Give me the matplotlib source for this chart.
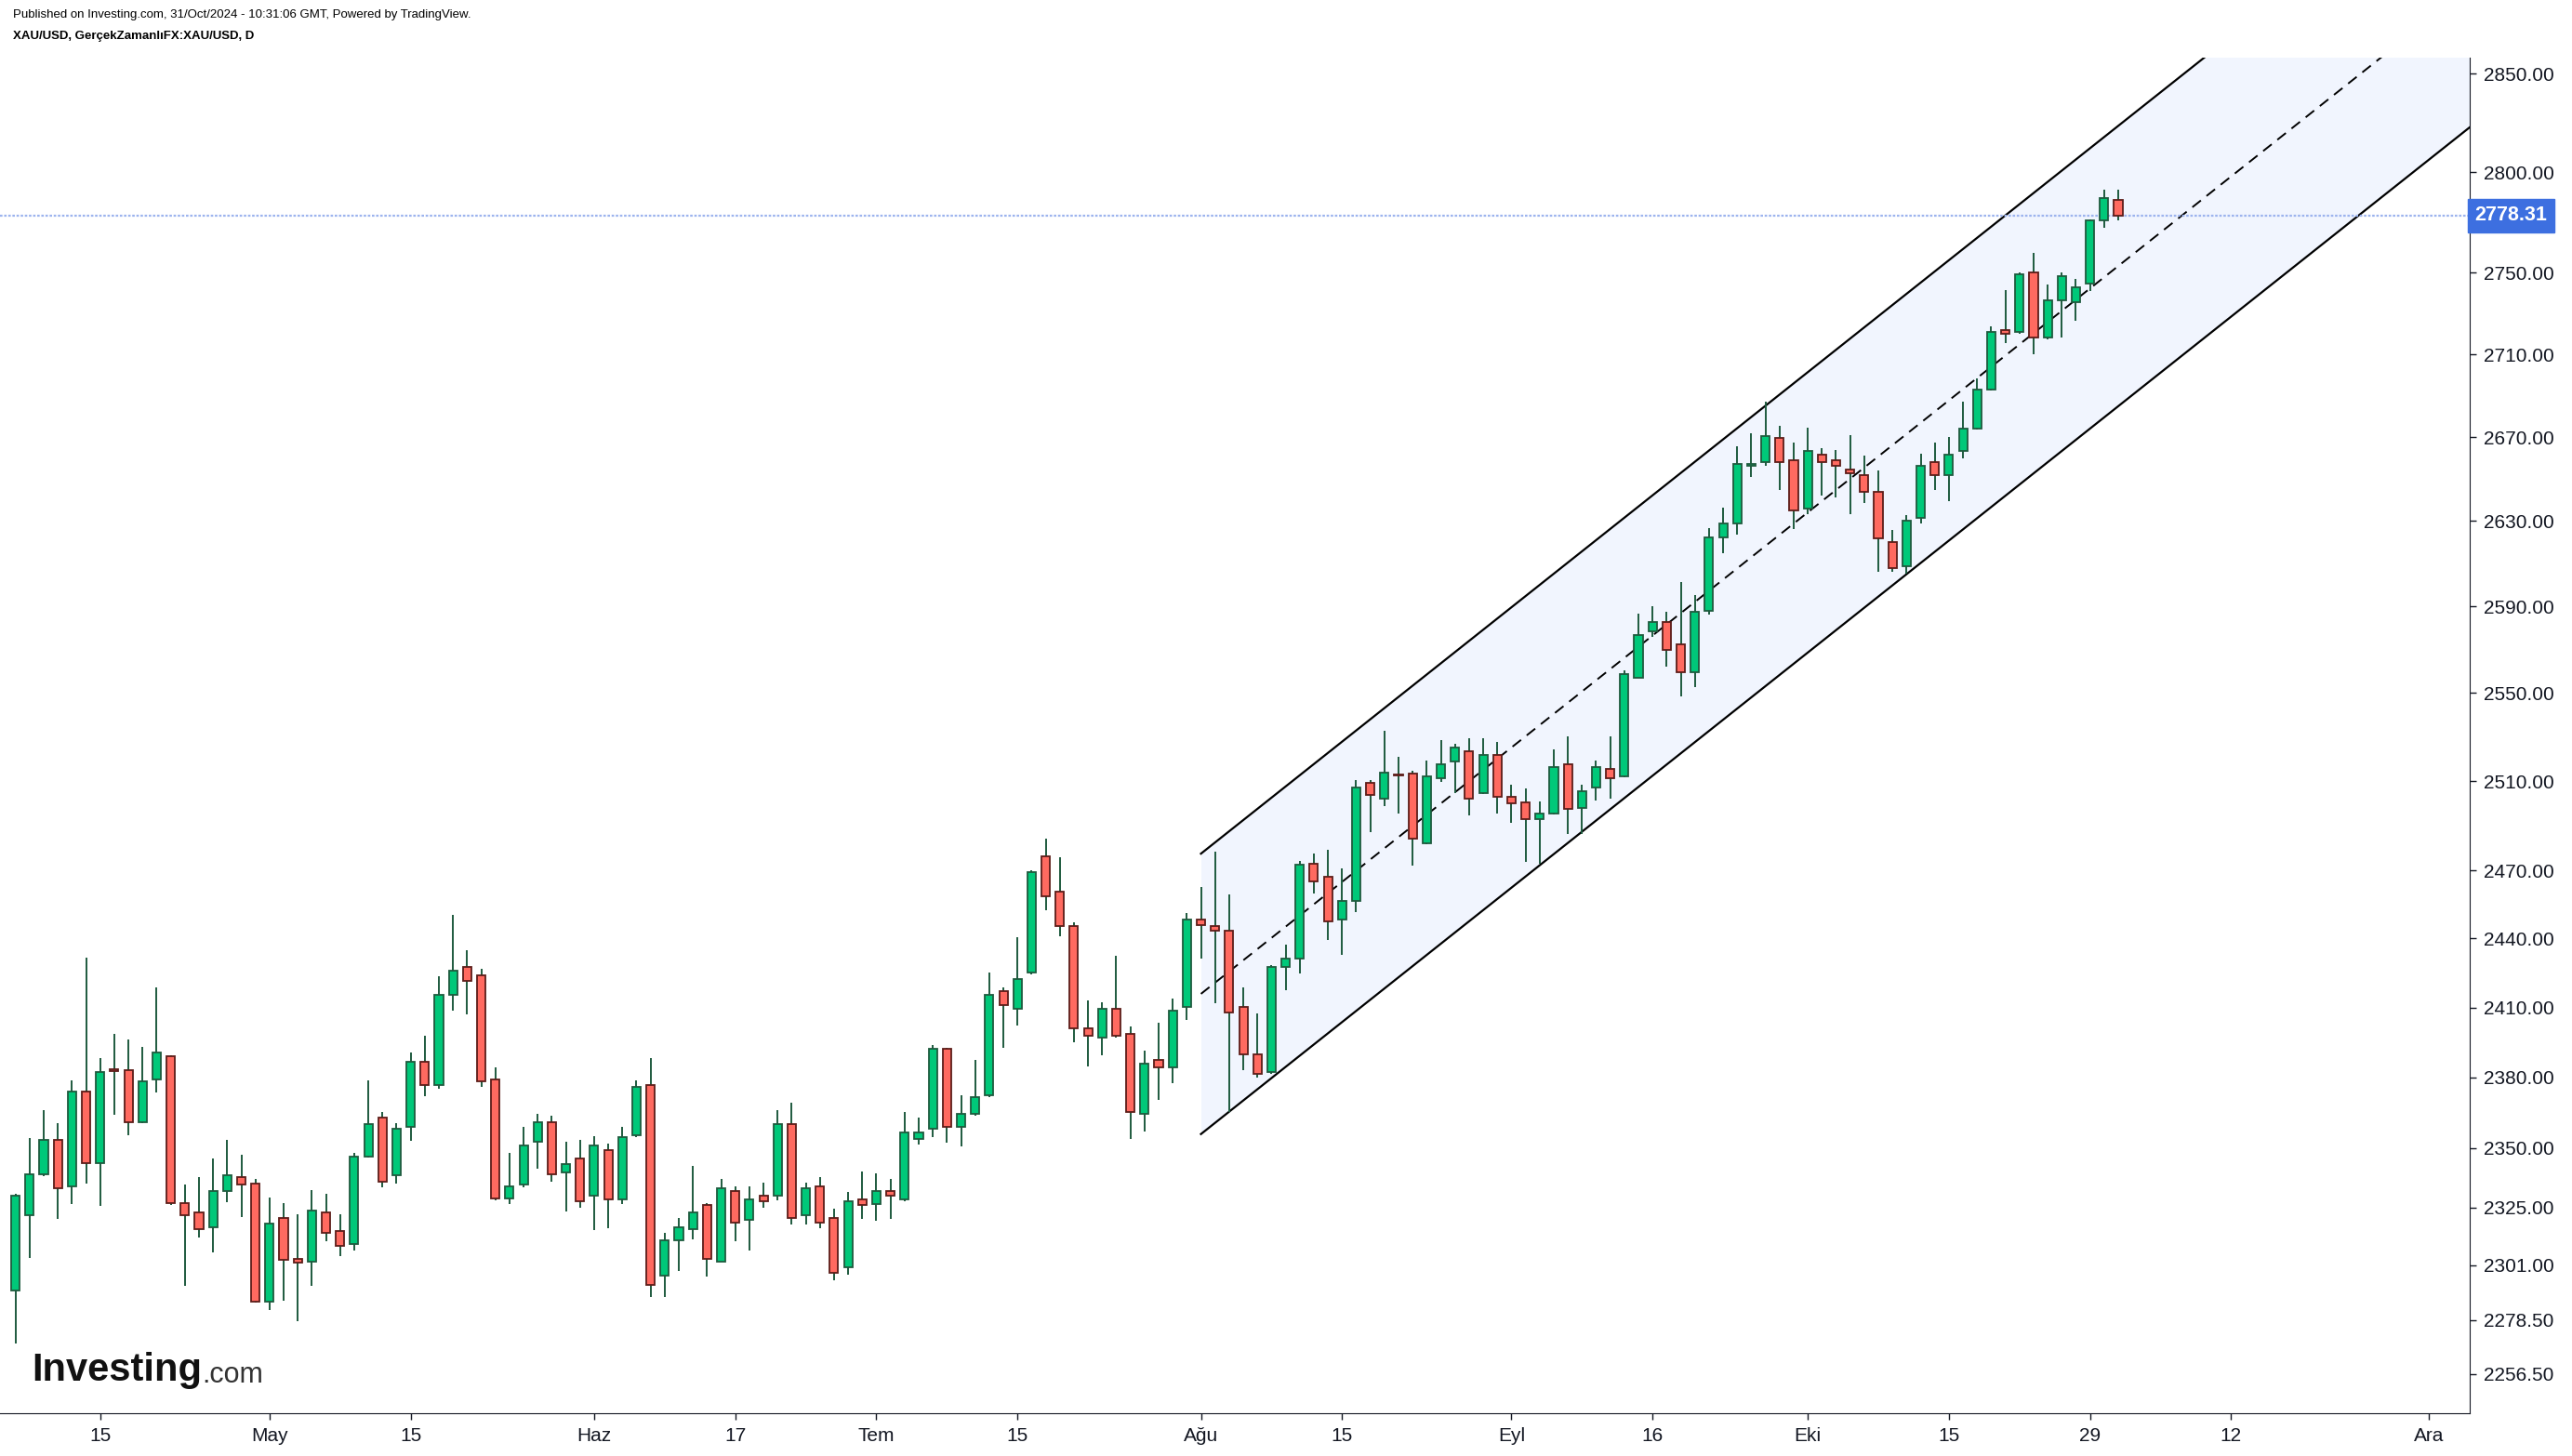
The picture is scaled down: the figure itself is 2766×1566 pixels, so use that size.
import numpy as np
import pandas as pd
import matplotlib
matplotlib.use("Agg")
import matplotlib.pyplot as plt
import matplotlib.transforms as mtransforms

plt.rcParams['font.family'] = ['Liberation Sans', 'DejaVu Sans']

# XAU/USD diario, 5 abr - 31 oct 2024
apertura = [2290.4, 2321.9, 2338.8, 2353.2, 2333.6, 2373.7, 2343.7, 2383.3, 2383.2, 2361.0,
            2379.2, 2388.8, 2326.6, 2322.7, 2316.5, 2332.0, 2337.5, 2335.1, 2285.8, 2320.4,
            2303.4, 2302.4, 2322.7, 2315.0, 2309.6, 2346.1, 2362.6, 2338.3, 2358.7, 2386.4,
            2376.8, 2415.3, 2427.4, 2424.1, 2379.2, 2328.9, 2334.4, 2352.4, 2361.0, 2339.8,
            2345.3, 2329.7, 2349.2, 2328.2, 2355.5, 2376.8, 2296.5, 2311.1, 2315.8, 2325.8,
            2302.6, 2332.0, 2319.6, 2329.7, 2329.7, 2360.2, 2321.9, 2333.6, 2320.4, 2300.3,
            2328.2, 2326.4, 2332.0, 2328.2, 2353.9, 2357.9, 2392.0, 2358.7, 2364.2, 2372.1,
            2416.9, 2409.6, 2425.0, 2476.5, 2460.8, 2445.3, 2400.8, 2396.8, 2409.6, 2398.4,
            2364.2, 2387.2, 2384.0, 2410.4, 2448.5, 2445.3, 2443.6, 2410.4, 2389.6, 2382.2,
            2427.4, 2431.4, 2473.2, 2467.4, 2448.5, 2456.7, 2509.0, 2502.3, 2512.8, 2513.2,
            2482.3, 2511.5, 2519.0, 2523.3, 2504.8, 2521.6, 2503.1, 2500.6, 2493.1, 2495.6,
            2517.4, 2498.1, 2507.3, 2515.7, 2512.3, 2557.2, 2578.6, 2582.9, 2572.6, 2559.7,
            2588.1, 2622.1, 2629.1, 2656.2, 2658.2, 2669.8, 2659.1, 2636.1, 2661.7, 2659.1,
            2654.6, 2652.0, 2644.0, 2620.3, 2608.7, 2631.4, 2658.2, 2652.0, 2663.3, 2674.2,
            2692.8, 2722.0, 2720.8, 2750.3, 2718.3, 2736.3, 2735.6, 2744.5, 2776.1, 2786.3]

maximo = [2330.5, 2354.2, 2366.0, 2360.5, 2378.7, 2431.7, 2388.3, 2398.6, 2396.2, 2393.1,
          2418.8, 2389.5, 2334.6, 2337.7, 2345.6, 2353.4, 2347.2, 2337.0, 2329.2, 2326.9,
          2322.2, 2332.3, 2330.8, 2322.2, 2347.9, 2378.7, 2365.3, 2360.5, 2390.7, 2397.8,
          2423.6, 2450.5, 2435.0, 2426.9, 2384.3, 2347.9, 2358.9, 2364.5, 2363.7, 2352.7,
          2353.4, 2355.0, 2351.9, 2358.9, 2378.7, 2388.3, 2314.5, 2320.7, 2342.4, 2326.6,
          2337.0, 2333.9, 2333.9, 2335.4, 2366.0, 2369.2, 2335.4, 2337.7, 2324.5, 2331.5,
          2340.1, 2339.3, 2337.0, 2365.3, 2362.9, 2393.6, 2392.5, 2372.4, 2387.5, 2425.2,
          2418.8, 2440.7, 2470.2, 2484.2, 2476.0, 2447.2, 2413.1, 2412.3, 2432.5, 2401.9,
          2391.5, 2403.5, 2413.9, 2451.3, 2462.8, 2478.4, 2459.5, 2418.8, 2407.5, 2428.2,
          2437.4, 2474.3, 2477.6, 2479.3, 2471.0, 2510.6, 2510.6, 2532.9, 2521.0, 2514.8,
          2519.3, 2528.6, 2526.9, 2529.5, 2529.5, 2527.8, 2508.4, 2506.8, 2500.9, 2524.4,
          2530.3, 2508.4, 2519.3, 2530.3, 2560.6, 2586.7, 2590.2, 2587.6, 2601.4, 2595.3,
          2626.8, 2636.4, 2665.6, 2671.8, 2687.1, 2675.4, 2667.4, 2674.5, 2664.7, 2663.8,
          2671.0, 2661.2, 2654.1, 2625.9, 2632.9, 2662.0, 2667.4, 2670.1, 2687.1, 2698.4,
          2723.8, 2741.4, 2750.3, 2759.8, 2744.2, 2750.2, 2746.9, 2776.6, 2791.3, 2791.3]

minimo = [2268.8, 2303.9, 2338.0, 2320.2, 2326.4, 2334.9, 2325.6, 2364.0, 2355.3, 2360.5,
          2373.4, 2326.0, 2292.4, 2312.4, 2306.3, 2327.1, 2320.9, 2285.5, 2282.5, 2286.3,
          2277.9, 2292.4, 2310.9, 2304.7, 2307.0, 2345.8, 2333.4, 2334.9, 2352.9, 2371.9,
          2375.0, 2408.6, 2407.0, 2375.8, 2327.9, 2326.4, 2333.4, 2341.1, 2335.7, 2323.3,
          2324.8, 2315.5, 2316.3, 2326.4, 2354.5, 2287.8, 2287.8, 2298.5, 2311.7, 2296.3,
          2302.3, 2310.9, 2307.0, 2324.8, 2327.9, 2317.8, 2317.8, 2316.3, 2294.7, 2297.0,
          2320.2, 2319.4, 2320.2, 2327.6, 2351.4, 2354.5, 2352.1, 2350.6, 2363.4, 2371.5,
          2392.5, 2402.1, 2424.5, 2452.4, 2440.9, 2394.9, 2384.6, 2389.3, 2397.0, 2353.7,
          2356.9, 2370.3, 2377.4, 2404.5, 2431.2, 2411.8, 2365.3, 2383.0, 2379.8, 2381.4,
          2417.4, 2424.7, 2459.8, 2439.3, 2432.8, 2451.6, 2487.0, 2498.7, 2495.3, 2472.1,
          2481.8, 2509.6, 2504.5, 2494.5, 2504.3, 2495.3, 2491.2, 2473.8, 2473.0, 2494.8,
          2486.2, 2486.4, 2501.4, 2502.0, 2511.8, 2556.8, 2575.8, 2562.1, 2548.4, 2552.7,
          2586.1, 2614.8, 2623.6, 2650.8, 2656.2, 2644.6, 2626.2, 2633.2, 2642.0, 2641.1,
          2633.2, 2638.5, 2606.1, 2606.1, 2605.2, 2628.8, 2644.6, 2639.3, 2659.7, 2673.7,
          2692.3, 2715.3, 2719.9, 2709.9, 2717.4, 2718.1, 2726.2, 2741.1, 2772.1, 2775.8]

cierre = [2329.7, 2339.0, 2353.2, 2332.8, 2373.7, 2343.7, 2382.4, 2382.7, 2361.0, 2378.4,
          2390.4, 2326.6, 2321.9, 2315.8, 2332.0, 2338.3, 2334.4, 2285.8, 2318.1, 2303.2,
          2301.9, 2323.5, 2314.2, 2308.8, 2346.1, 2360.2, 2335.9, 2357.9, 2386.4, 2376.8,
          2415.3, 2425.8, 2421.7, 2378.4, 2328.9, 2333.6, 2350.8, 2361.0, 2339.0, 2343.0,
          2327.4, 2350.8, 2328.2, 2354.7, 2376.0, 2292.7, 2311.1, 2316.5, 2322.7, 2303.4,
          2332.8, 2318.8, 2328.2, 2327.4, 2360.2, 2320.4, 2332.8, 2318.6, 2297.8, 2327.4,
          2325.8, 2332.0, 2329.7, 2356.3, 2356.3, 2392.0, 2358.7, 2364.2, 2371.3, 2415.3,
          2411.2, 2422.5, 2469.1, 2458.4, 2445.3, 2400.8, 2397.6, 2409.6, 2397.6, 2365.0,
          2385.6, 2384.0, 2408.8, 2448.5, 2446.1, 2443.6, 2408.0, 2389.6, 2381.6, 2427.4,
          2431.4, 2472.4, 2465.0, 2447.7, 2456.7, 2507.3, 2503.9, 2514.0, 2512.4, 2484.0,
          2512.3, 2517.4, 2525.0, 2502.3, 2521.6, 2503.1, 2499.8, 2493.1, 2495.6, 2516.5,
          2497.3, 2505.6, 2516.5, 2511.5, 2558.9, 2576.9, 2582.9, 2570.0, 2559.7, 2587.3,
          2622.1, 2629.1, 2657.3, 2657.3, 2670.6, 2658.2, 2635.2, 2663.5, 2658.2, 2656.4,
          2652.9, 2644.0, 2621.8, 2608.1, 2630.0, 2656.4, 2652.0, 2661.7, 2674.2, 2693.0,
          2721.0, 2720.1, 2749.4, 2718.3, 2736.5, 2748.5, 2742.9, 2776.1, 2787.3, 2778.31]

# Canal alcista (fechas y precios de los extremos)
canal_fechas = ['2024-08-01', '2024-12-05']
canal_sup = [2477.5, 2969.1]
canal_inf = [2355.8, 2823.3]
precio_actual = 2778.31

# Etiquetas de los ejes
eje_y = [2850.00, 2800.00, 2750.00, 2710.00, 2670.00, 2630.00, 2590.00, 2550.00, 2510.00,
         2470.00, 2440.00, 2410.00, 2380.00, 2350.00, 2325.00, 2301.00, 2278.50, 2256.50]
eje_x_fechas = ['2024-04-15', '2024-05-01', '2024-05-15', '2024-06-03', '2024-06-17',
                '2024-07-01', '2024-07-15', '2024-08-01', '2024-08-15', '2024-09-02',
                '2024-09-16', '2024-10-01', '2024-10-15', '2024-10-29', '2024-11-12',
                '2024-12-02']
eje_x_textos = ['15', 'May', '15', 'Haz', '17', 'Tem', '15', 'Ağu', '15', 'Eyl',
                '16', 'Eki', '15', '29', '12', 'Ara']

# Colores
verde = '#00c879'
verde_borde = '#1e5a3e'
rojo = '#ff6a60'
rojo_borde = '#5c1c18'
mecha = '#1e5a3e'
azul = '#3d6fe0'

dias = pd.bdate_range('2024-04-05', '2024-12-31')
pos = {d: i for i, d in enumerate(dias)}
x = np.arange(len(cierre))
o = np.array(apertura)
h = np.array(maximo)
l = np.array(minimo)
c = np.array(cierre)
sube = c >= o

fig = plt.figure(figsize=(27.66, 15.66), dpi=100)
ax = fig.add_axes([0.0, 0.0294, 0.9602, 0.931])
ax.set_yscale('log')

# Canal
cx = [pos[pd.Timestamp(d)] for d in canal_fechas]
medio = np.sqrt(np.array(canal_sup) * np.array(canal_inf))
ax.fill_between(cx, canal_inf, canal_sup, color='#f1f5fe', lw=0, zorder=0)
ax.plot(cx, canal_sup, color='black', lw=1.6, zorder=1)
ax.plot(cx, canal_inf, color='black', lw=1.6, zorder=1)
ax.plot(cx, medio, color='black', lw=1.4, ls=(0, (6, 4)), zorder=1)

ax.axhline(precio_actual, color='#9db4ee', lw=1.6, ls=(0, (1.2, 0.8)), zorder=1)

# Velas
ax.vlines(x, l, h, color=mecha, lw=1.4, zorder=2)
cuerpo_bajo = np.minimum(o, c)
cuerpo_alto = np.maximum(o, c)
alto = np.maximum(cuerpo_alto - cuerpo_bajo, 0.3)
ax.bar(x[sube], alto[sube], bottom=cuerpo_bajo[sube], width=0.6,
       color=verde, edgecolor=verde_borde, linewidth=1.3, zorder=3)
ax.bar(x[~sube], alto[~sube], bottom=cuerpo_bajo[~sube], width=0.6,
       color=rojo, edgecolor=rojo_borde, linewidth=1.3, zorder=3)

ax.set_xlim(-1.1, 173.9)
ax.set_ylim(2240.6, 2858.3)

ax.yaxis.tick_right()
ax.yaxis.set_minor_locator(matplotlib.ticker.NullLocator())
ax.yaxis.set_minor_formatter(matplotlib.ticker.NullFormatter())
ax.set_yticks(eje_y)
ax.set_yticklabels([f'{v:.2f}' for v in eje_y])
ax.set_xticks([pos[pd.Timestamp(d)] for d in eje_x_fechas])
ax.set_xticklabels(eje_x_textos)
ax.tick_params(axis='both', labelsize=15, colors='#131722', length=5, width=1)
ax.tick_params(axis='y', pad=6)
ax.tick_params(axis='x', pad=6)

for lado in ['top', 'left']:
    ax.spines[lado].set_visible(False)
ax.spines['right'].set_color('#131722')
ax.spines['bottom'].set_color('#131722')

# Etiqueta del precio actual
trans = mtransforms.blended_transform_factory(ax.transAxes, ax.transData)
ax.text(1.002, precio_actual, f'{precio_actual:.2f}', transform=trans, fontsize=15.5,
        fontweight='bold', color='white', va='center', ha='left',
        bbox=dict(boxstyle='square,pad=0.35', fc=azul, ec=azul), zorder=5, clip_on=False)

# Encabezado
fig.text(0.005, 0.9895, 'Published on Investing.com, 31/Oct/2024 - 10:31:06 GMT, Powered by TradingView.',
         fontsize=9.5, color='black', va='center')
fig.text(0.005, 0.975, 'XAU/USD, GerçekZamanlıFX:XAU/USD, D', fontsize=9.5,
         fontweight='bold', color='black', va='center')

# Logo
logo = fig.text(0.0125, 0.052, 'Investing', fontsize=30, fontweight='bold', color='#111111',
                va='baseline')
fig.canvas.draw()
ax.annotate('.com', xy=(1, 0), xycoords=logo, fontsize=22, color='#333333',
            va='bottom', ha='left', annotation_clip=False)

fig.savefig('out.png', dpi=100)
